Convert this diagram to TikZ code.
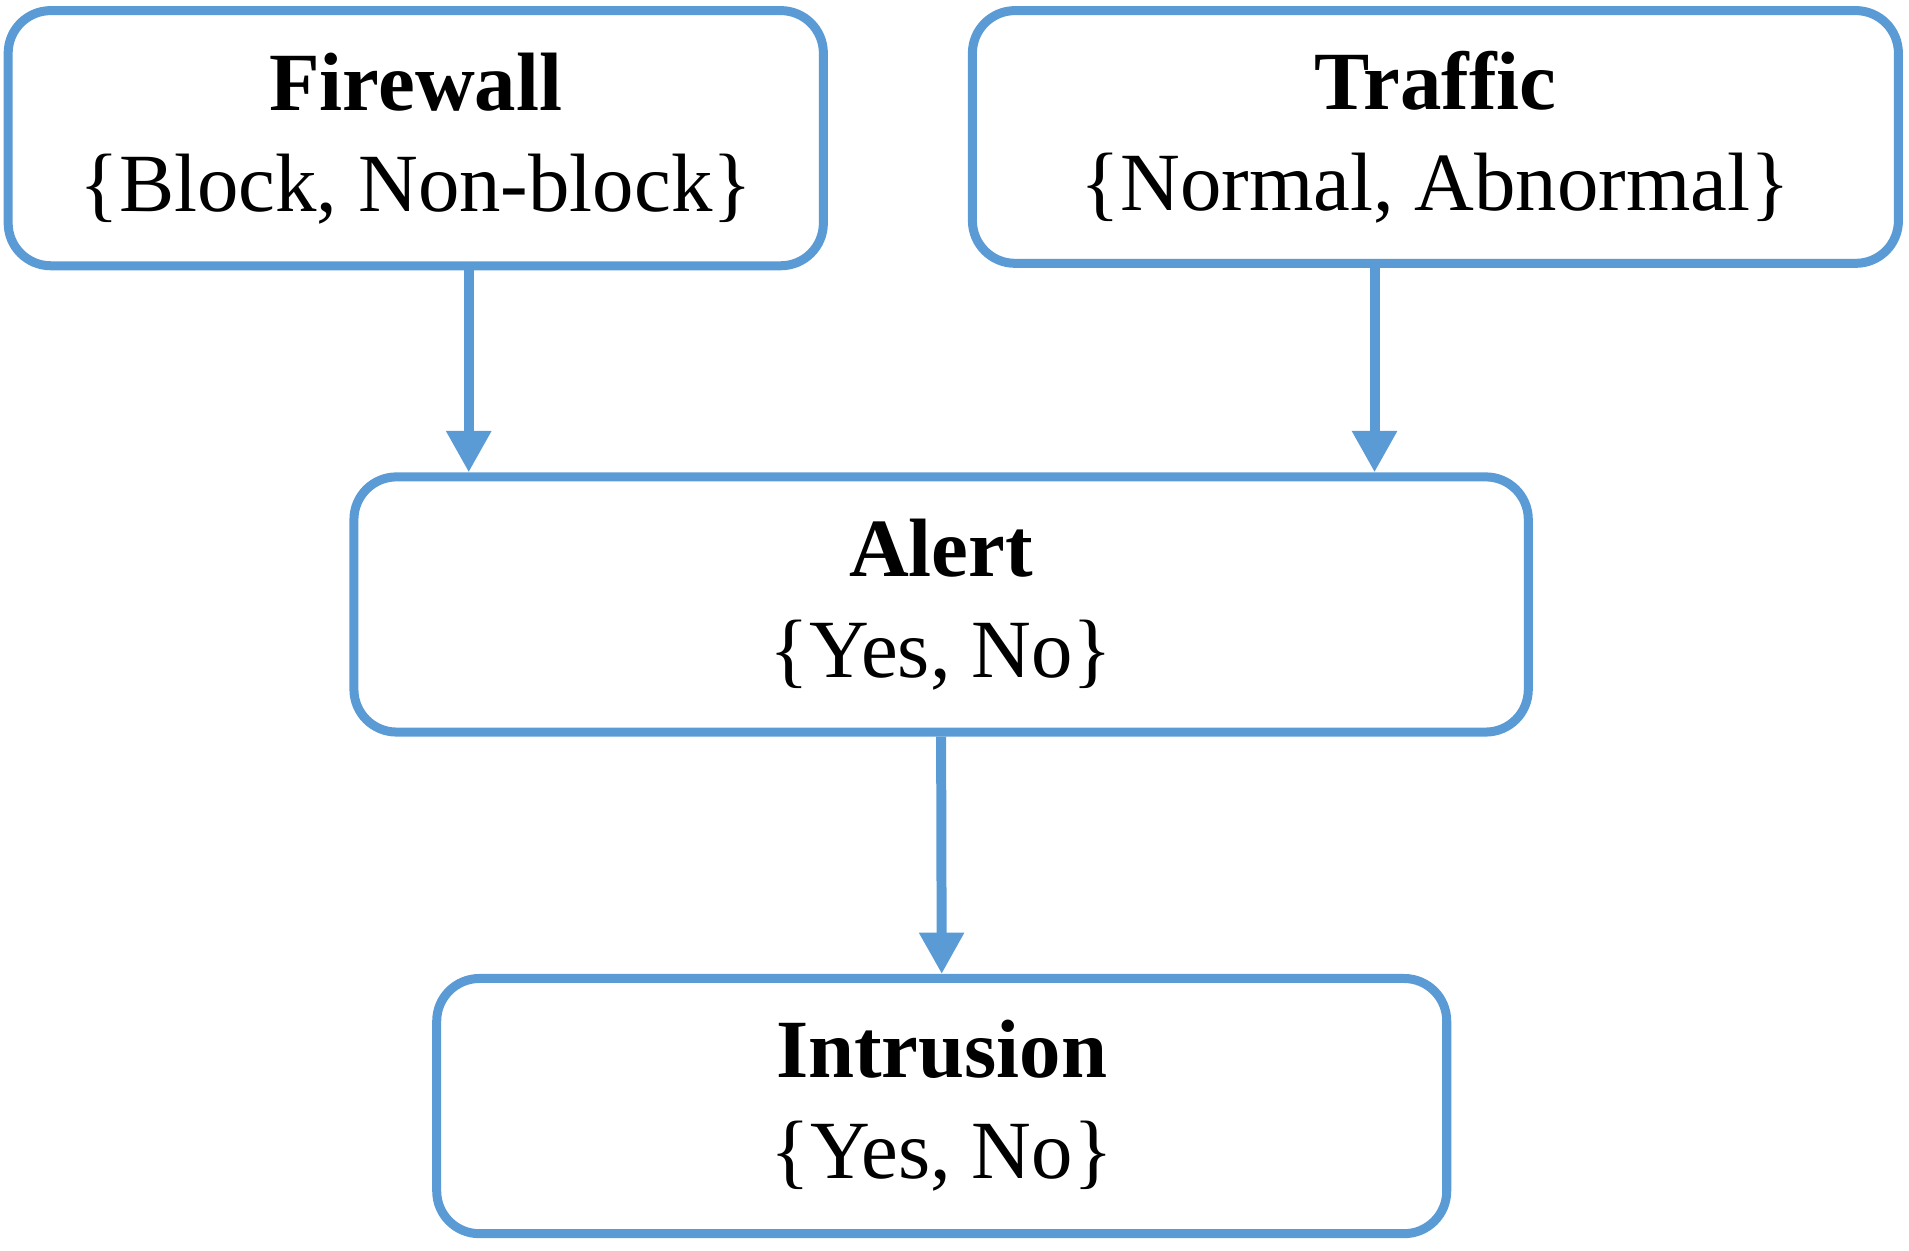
\documentclass[tikz,border=0pt]{standalone}
\usepackage{fontspec}
\setmainfont{Liberation Serif}
\usetikzlibrary{arrows.meta, positioning}
\definecolor{boxblue}{HTML}{5B9BD5}

\begin{document}
\begin{tikzpicture}[>={Triangle[width=17.5pt,length=17pt]},
    varbox/.style={draw=boxblue, line width=3.7pt, rounded corners=17.5pt, fill=white,
                   align=center, inner sep=0pt, minimum height=104.8pt,
                   font=\fontsize{34}{41.5}\selectfont},
    flow/.style={->, draw=boxblue, line width=4.1pt}]

    % Page size
    \useasboundingbox (0,0) rectangle (784pt,-513.5pt);

    % Define variables
    \node[varbox, minimum width=334.8pt] (fw) at (170.75pt,-56.75pt) {\textbf{Firewall}\\\{Block, Non-block\}};
    \node[varbox, minimum width=380.3pt, minimum height=103.8pt] (tr) at (589.5pt,-56.25pt) {\textbf{Traffic}\\\{Normal, Abnormal\}};
    \node[varbox, minimum width=482.3pt] (al) at (386.5pt,-248.25pt) {\textbf{Alert}\\\{Yes, No\}};
    \node[varbox, minimum width=414.8pt] (in) at (386.75pt,-454.25pt) {\textbf{Intrusion}\\\{Yes, No\}};

    % Dependencies
    \coordinate (fwout) at ([xshift=21.75pt]fw.south);
    \coordinate (trout) at ([xshift=-25pt]tr.south);
    \draw[flow] (fwout) -- (fwout |- al.north);
    \draw[flow] (trout) -- (trout |- al.north);
    \draw[flow] (al.south) -- (in.north);

\end{tikzpicture}
\end{document}
